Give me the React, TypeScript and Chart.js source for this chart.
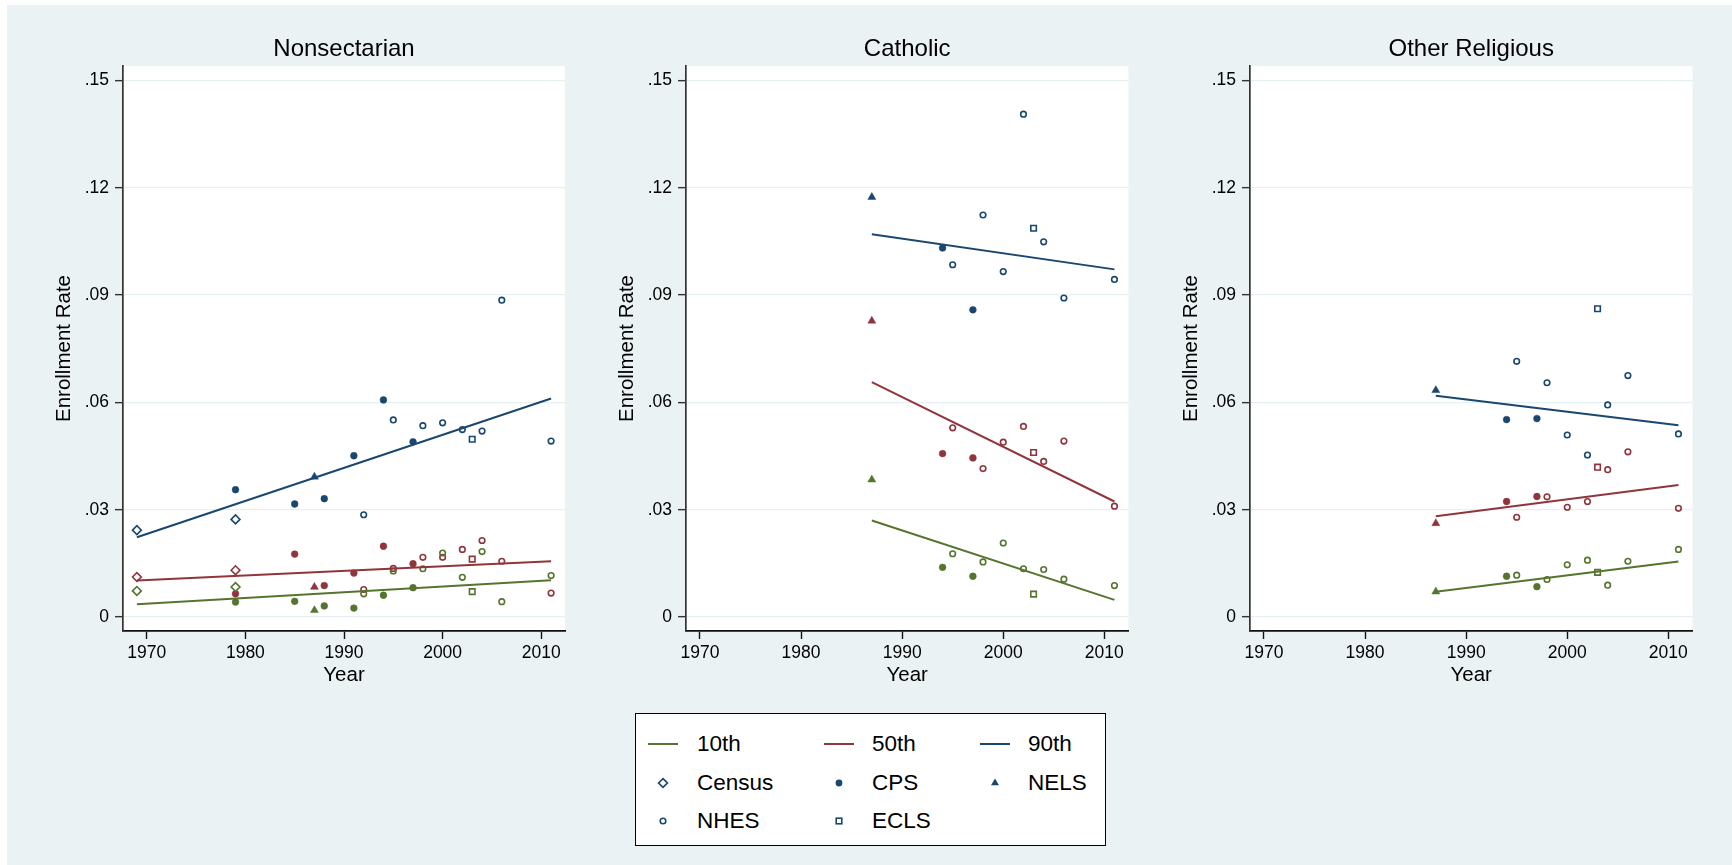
import React, { useEffect, useRef } from "react";
import { Chart, registerables } from "chart.js";
Chart.register(...registerables);

const FONT = '"Liberation Sans", Arial, Helvetica, sans-serif';
const NAVY = "#1A476F";
const MAROON = "#90353B";
const GREEN = "#55752F";

// ---------- axis ticks ----------
const X_TICKS = [1970, 1980, 1990, 2000, 2010];
const Y_TICKS = [0, 0.03, 0.06, 0.09, 0.12, 0.15];
const Y_TICK_LABELS = ["0", ".03", ".06", ".09", ".12", ".15"];
const PANEL_TITLES = ["Nonsectarian", "Catholic", "Other Religious"];

// ---------- Nonsectarian ----------
const NS_CENSUS_YEARS = [1969, 1979];
const NS_CENSUS_P10 = [0.0073, 0.0084];
const NS_CENSUS_P50 = [0.0112, 0.0131];
const NS_CENSUS_P90 = [0.0243, 0.0273];
const NS_CPS_YEARS = [1979, 1985, 1988, 1991, 1994, 1997];
const NS_CPS_P10 = [0.0042, 0.0044, 0.0031, 0.0025, 0.0061, 0.0082];
const NS_CPS_P50 = [0.0065, 0.0176, 0.0088, 0.0123, 0.0198, 0.0149];
const NS_CPS_P90 = [0.0356, 0.0316, 0.0331, 0.0451, 0.0607, 0.049];
const NS_NELS_YEARS = [1987];
const NS_NELS_P10 = [0.0019];
const NS_NELS_P50 = [0.0084];
const NS_NELS_P90 = [0.0392];
const NS_NHES_YEARS = [1992, 1995, 1998, 2000, 2002, 2004, 2006, 2011];
const NS_NHES_P10 = [0.0065, 0.0129, 0.0135, 0.0179, 0.0111, 0.0183, 0.0043, 0.0116];
const NS_NHES_P50 = [0.0077, 0.0136, 0.0167, 0.0167, 0.0189, 0.0214, 0.0156, 0.0067];
const NS_NHES_P90 = [0.0286, 0.0551, 0.0535, 0.0543, 0.0524, 0.052, 0.0886, 0.0492];
const NS_ECLS_YEARS = [2003];
const NS_ECLS_P10 = [0.0071];
const NS_ECLS_P50 = [0.0162];
const NS_ECLS_P90 = [0.0497];
const NS_FIT_YEARS = [1969, 2011];
const NS_FIT_P10 = [0.0036, 0.0103];
const NS_FIT_P50 = [0.0102, 0.0156];
const NS_FIT_P90 = [0.0223, 0.0611];

// ---------- Catholic ----------
const CA_CPS_YEARS = [1994, 1997];
const CA_CPS_P10 = [0.0139, 0.0114];
const CA_CPS_P50 = [0.0457, 0.0445];
const CA_CPS_P90 = [0.1032, 0.0859];
const CA_NELS_YEARS = [1987];
const CA_NELS_P10 = [0.0384];
const CA_NELS_P50 = [0.0828];
const CA_NELS_P90 = [0.1174];
const CA_NHES_YEARS = [1995, 1998, 2000, 2002, 2004, 2006, 2011];
const CA_NHES_P10 = [0.0177, 0.0154, 0.0207, 0.0135, 0.0133, 0.0106, 0.0088];
const CA_NHES_P50 = [0.0529, 0.0415, 0.0489, 0.0533, 0.0435, 0.0492, 0.031];
const CA_NHES_P90 = [0.0985, 0.1124, 0.0966, 0.1406, 0.1049, 0.0892, 0.0944];
const CA_ECLS_YEARS = [2003];
const CA_ECLS_P10 = [0.0064];
const CA_ECLS_P50 = [0.046];
const CA_ECLS_P90 = [0.1087];
const CA_FIT_YEARS = [1987, 2011];
const CA_FIT_P10 = [0.027, 0.0048];
const CA_FIT_P50 = [0.0657, 0.0323];
const CA_FIT_P90 = [0.107, 0.0972];

// ---------- Other Religious ----------
const OR_CPS_YEARS = [1994, 1997];
const OR_CPS_P10 = [0.0114, 0.0085];
const OR_CPS_P50 = [0.0323, 0.0337];
const OR_CPS_P90 = [0.0552, 0.0555];
const OR_NELS_YEARS = [1987];
const OR_NELS_P10 = [0.0071];
const OR_NELS_P50 = [0.0262];
const OR_NELS_P90 = [0.0634];
const OR_NHES_YEARS = [1995, 1998, 2000, 2002, 2004, 2006, 2011];
const OR_NHES_P10 = [0.0117, 0.0105, 0.0146, 0.0159, 0.0089, 0.0156, 0.0189];
const OR_NHES_P50 = [0.0279, 0.0336, 0.0307, 0.0323, 0.0412, 0.0462, 0.0304];
const OR_NHES_P90 = [0.0715, 0.0655, 0.0509, 0.0453, 0.0593, 0.0675, 0.0512];
const OR_ECLS_YEARS = [2003];
const OR_ECLS_P10 = [0.0125];
const OR_ECLS_P50 = [0.0419];
const OR_ECLS_P90 = [0.0862];
const OR_FIT_YEARS = [1987, 2011];
const OR_FIT_P10 = [0.0071, 0.0155];
const OR_FIT_P50 = [0.0282, 0.0369];
const OR_FIT_P90 = [0.0619, 0.0536];

type Series = { years: number[]; p10: number[]; p50: number[]; p90: number[] };
type PanelData = {
  title: string;
  xMin: number;
  xMax: number;
  sources: { key: string; s: Series }[];
  fit: Series;
};

const PANELS: PanelData[] = [
  {
    title: PANEL_TITLES[0],
    xMin: 1967.59,
    xMax: 2012.41,
    sources: [
      { key: "Census", s: { years: NS_CENSUS_YEARS, p10: NS_CENSUS_P10, p50: NS_CENSUS_P50, p90: NS_CENSUS_P90 } },
      { key: "CPS", s: { years: NS_CPS_YEARS, p10: NS_CPS_P10, p50: NS_CPS_P50, p90: NS_CPS_P90 } },
      { key: "NELS", s: { years: NS_NELS_YEARS, p10: NS_NELS_P10, p50: NS_NELS_P50, p90: NS_NELS_P90 } },
      { key: "NHES", s: { years: NS_NHES_YEARS, p10: NS_NHES_P10, p50: NS_NHES_P50, p90: NS_NHES_P90 } },
      { key: "ECLS", s: { years: NS_ECLS_YEARS, p10: NS_ECLS_P10, p50: NS_ECLS_P50, p90: NS_ECLS_P90 } },
    ],
    fit: { years: NS_FIT_YEARS, p10: NS_FIT_P10, p50: NS_FIT_P50, p90: NS_FIT_P90 },
  },
  {
    title: PANEL_TITLES[1],
    xMin: 1968.62,
    xMax: 2012.38,
    sources: [
      { key: "CPS", s: { years: CA_CPS_YEARS, p10: CA_CPS_P10, p50: CA_CPS_P50, p90: CA_CPS_P90 } },
      { key: "NELS", s: { years: CA_NELS_YEARS, p10: CA_NELS_P10, p50: CA_NELS_P50, p90: CA_NELS_P90 } },
      { key: "NHES", s: { years: CA_NHES_YEARS, p10: CA_NHES_P10, p50: CA_NHES_P50, p90: CA_NHES_P90 } },
      { key: "ECLS", s: { years: CA_ECLS_YEARS, p10: CA_ECLS_P10, p50: CA_ECLS_P50, p90: CA_ECLS_P90 } },
    ],
    fit: { years: CA_FIT_YEARS, p10: CA_FIT_P10, p50: CA_FIT_P50, p90: CA_FIT_P90 },
  },
  {
    title: PANEL_TITLES[2],
    xMin: 1968.62,
    xMax: 2012.38,
    sources: [
      { key: "CPS", s: { years: OR_CPS_YEARS, p10: OR_CPS_P10, p50: OR_CPS_P50, p90: OR_CPS_P90 } },
      { key: "NELS", s: { years: OR_NELS_YEARS, p10: OR_NELS_P10, p50: OR_NELS_P50, p90: OR_NELS_P90 } },
      { key: "NHES", s: { years: OR_NHES_YEARS, p10: OR_NHES_P10, p50: OR_NHES_P50, p90: OR_NHES_P90 } },
      { key: "ECLS", s: { years: OR_ECLS_YEARS, p10: OR_ECLS_P10, p50: OR_ECLS_P50, p90: OR_ECLS_P90 } },
    ],
    fit: { years: OR_FIT_YEARS, p10: OR_FIT_P10, p50: OR_FIT_P50, p90: OR_FIT_P90 },
  },
];

// marker styles per source
const MARKERS: Record<string, { style: string; radius: number; hollow: boolean }> = {
  Census: { style: "rectRot", radius: 4.4, hollow: true },
  CPS: { style: "circle", radius: 3.4, hollow: false },
  NELS: { style: "triangle", radius: 4.6, hollow: false },
  NHES: { style: "circle", radius: 2.8, hollow: true },
  ECLS: { style: "rect", radius: 3.9, hollow: true },
};

const PCT = [
  { k: "p10" as const, color: GREEN },
  { k: "p50" as const, color: MAROON },
  { k: "p90" as const, color: NAVY },
];

// layout (pixels)
const PLOT_LEFTS = [122.7, 686, 1250];
const PLOT_W = 444;
const Y_AXIS_W = 118;
const CANVAS_TOP = 5;
const CANVAS_H = 695;

const plotBg = {
  id: "plotBg",
  beforeDraw(chart: any) {
    const { ctx, chartArea: a } = chart;
    ctx.save();
    ctx.fillStyle = "#ffffff";
    ctx.fillRect(a.left, a.top, a.right - a.left, a.bottom - a.top);
    ctx.restore();
  },
};

function Panel({ panel, plotLeft }: { panel: PanelData; plotLeft: number }) {
  const ref = useRef<HTMLCanvasElement>(null);
  const w = PLOT_W + Y_AXIS_W + 4;
  useEffect(() => {
    const datasets: any[] = [];
    for (const p of PCT) {
      datasets.push({
        type: "line",
        data: panel.fit.years.map((x, i) => ({ x, y: panel.fit[p.k][i] })),
        borderColor: p.color,
        borderWidth: 2,
        pointRadius: 0,
        showLine: true,
        fill: false,
        order: 0,
      });
    }
    for (const src of panel.sources) {
      const m = MARKERS[src.key];
      for (const p of PCT) {
        datasets.push({
          type: "scatter",
          data: src.s.years.map((x, i) => ({ x, y: src.s[p.k][i] })),
          pointStyle: m.style,
          pointRadius: m.radius,
          pointBackgroundColor: m.hollow ? "rgba(255,255,255,0)" : p.color,
          pointBorderColor: p.color,
          pointBorderWidth: m.hollow ? 1.6 : 0.5,
          order: 1,
        });
      }
    }
    const chart = new Chart(ref.current as HTMLCanvasElement, {
      type: "scatter",
      data: { datasets },
      options: {
        animation: false,
        responsive: false,
        events: [],
        layout: { padding: { left: 0, right: 4, top: 0, bottom: 0 } },
        plugins: {
          legend: { display: false },
          tooltip: { enabled: false },
          title: {
            display: true,
            text: panel.title,
            fullSize: false,
            color: "#000",
            font: { family: FONT, size: 24, weight: "normal", lineHeight: 1 },
            padding: { top: 32.7, bottom: 4.3 },
          },
        },
        scales: {
          x: {
            type: "linear",
            min: panel.xMin,
            max: panel.xMax,
            afterBuildTicks: (s: any) => {
              s.ticks = X_TICKS.map((v) => ({ value: v }));
            },
            afterFit: (s: any) => {
              s.height = CANVAS_H - (631 - CANVAS_TOP);
            },
            ticks: {
              color: "#000",
              font: { family: FONT, size: 17.5 },
              padding: 4,
              maxRotation: 0,
              autoSkip: false,
              callback: (v: any) => String(v),
            },
            grid: {
              drawOnChartArea: false,
              drawTicks: true,
              tickLength: 8,
              tickColor: "#111",
              tickWidth: 1.4,
            },
            border: { display: true, color: "#111", width: 1.7 },
            title: {
              display: true,
              text: "Year",
              color: "#000",
              font: { family: FONT, size: 20.5, lineHeight: 1.2 },
              padding: { top: 0, bottom: 12 },
            },
          },
          y: {
            type: "linear",
            min: -0.0039,
            max: 0.15406,
            afterBuildTicks: (s: any) => {
              s.ticks = Y_TICKS.map((v) => ({ value: v }));
            },
            afterFit: (s: any) => {
              s.width = Y_AXIS_W;
            },
            ticks: {
              color: "#000",
              font: { family: FONT, size: 17.5 },
              padding: 6,
              autoSkip: false,
              callback: (_v: any, i: number) => Y_TICK_LABELS[i],
            },
            grid: {
              color: "#E6EFF1",
              lineWidth: 1.3,
              drawTicks: true,
              tickLength: 8,
              tickColor: "#333",
              tickWidth: 1.4,
            },
            border: { display: true, color: "#333", width: 1.7 },
            title: {
              display: true,
              text: "Enrollment Rate",
              color: "#000",
              font: { family: FONT, size: 20.5, lineHeight: 1.2 },
              padding: { top: 47.3, bottom: 0 },
            },
          },
        },
      } as any,
      plugins: [plotBg],
    } as any);
    return () => chart.destroy();
  }, [panel]);
  return (
    <canvas
      ref={ref}
      width={w}
      height={CANVAS_H}
      style={{ position: "absolute", left: plotLeft - Y_AXIS_W, top: CANVAS_TOP, width: w, height: CANVAS_H }}
    />
  );
}

// ---------- legend ----------
const LEGEND_LINES = [
  { label: "10th", color: GREEN },
  { label: "50th", color: MAROON },
  { label: "90th", color: NAVY },
];
const LEGEND_MARKERS = ["Census", "CPS", "NELS", "NHES", "ECLS"];

function MarkerIcon({ kind }: { kind: string }) {
  const c = NAVY;
  let shape: any = null;
  if (kind === "Census") shape = <polygon points="8,3.6 12.4,8 8,12.4 3.6,8" fill="none" stroke={c} strokeWidth={1.7} />;
  else if (kind === "CPS") shape = <circle cx={8} cy={8} r={3.4} fill={c} />;
  else if (kind === "NELS") shape = <polygon points="8,3.4 12,10.3 4,10.3" fill={c} />;
  else if (kind === "NHES") shape = <circle cx={8} cy={8} r={2.8} fill="none" stroke={c} strokeWidth={1.6} />;
  else if (kind === "ECLS") shape = <rect x={5.2} y={5.2} width={5.6} height={5.6} fill="none" stroke={c} strokeWidth={1.6} />;
  return (
    <svg width={16} height={16} style={{ display: "block" }}>
      {shape}
    </svg>
  );
}

const LEG_COL_SAMPLE = [663, 839, 995];
const LEG_COL_TEXT = [697, 872, 1028];
const LEG_ROWS = [744, 783, 821];

function Legend() {
  const items: any[] = [];
  const all: { label: string; line?: string; marker?: string }[] = [
    ...LEGEND_LINES.map((l) => ({ label: l.label, line: l.color })),
    ...LEGEND_MARKERS.map((m) => ({ label: m, marker: m })),
  ];
  all.forEach((it, i) => {
    const col = i % 3;
    const row = Math.floor(i / 3);
    const cx = LEG_COL_SAMPLE[col];
    const cy = LEG_ROWS[row];
    if (it.line) {
      items.push(
        <div
          key={"s" + i}
          style={{ position: "absolute", left: cx - 15, top: cy - 1, width: 30, height: 2, background: it.line }}
        />
      );
    } else {
      items.push(
        <div key={"s" + i} style={{ position: "absolute", left: cx - 8, top: cy - 8 }}>
          <MarkerIcon kind={it.marker as string} />
        </div>
      );
    }
    items.push(
      <div
        key={"t" + i}
        style={{
          position: "absolute",
          left: LEG_COL_TEXT[col],
          top: cy - 13,
          height: 26,
          lineHeight: "26px",
          fontSize: 22.5,
          fontFamily: FONT,
          color: "#000",
          whiteSpace: "nowrap",
        }}
      >
        {it.label}
      </div>
    );
  });
  return (
    <>
      <div
        style={{
          position: "absolute",
          left: 635,
          top: 713,
          width: 471,
          height: 133,
          boxSizing: "border-box",
          background: "#fff",
          border: "1.5px solid #000",
        }}
      />
      {items}
    </>
  );
}

export default function App() {
  return (
    <div
      style={{
        position: "fixed",
        left: 0,
        top: 0,
        width: 1732,
        height: 865,
        background: "#ffffff",
        overflow: "hidden",
      }}
    >
      <div style={{ position: "absolute", left: 7, top: 5, right: 0, bottom: 0, background: "#EAF2F3" }} />
      {PANELS.map((p, i) => (
        <Panel key={i} panel={p} plotLeft={PLOT_LEFTS[i]} />
      ))}
      <Legend />
    </div>
  );
}
